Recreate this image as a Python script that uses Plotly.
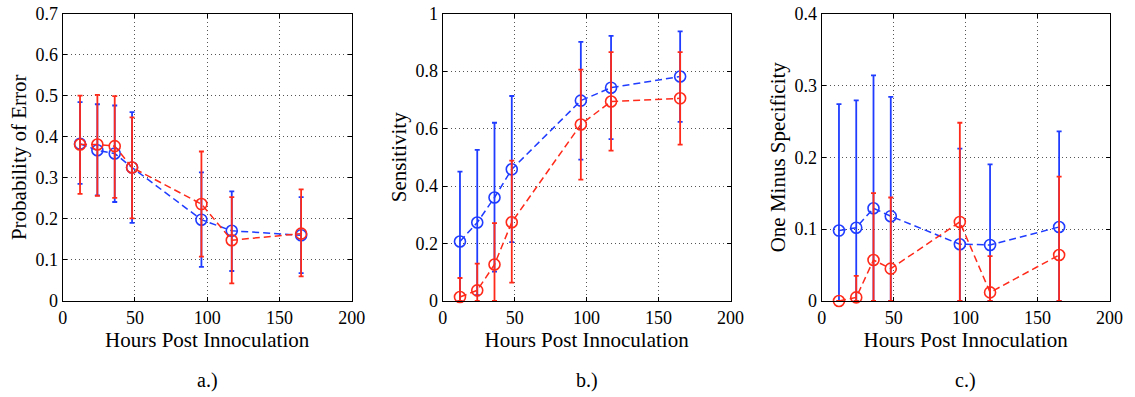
import plotly.graph_objects as go

hours = [12, 24, 36, 48, 96, 117, 165]

# Panel a: Probability of Error
err_blue = [0.383, 0.367, 0.359, 0.325, 0.198, 0.171, 0.160]
err_blue_hi = [0.484, 0.479, 0.476, 0.460, 0.313, 0.267, 0.253]
err_blue_lo = [0.285, 0.257, 0.241, 0.190, 0.083, 0.073, 0.068]
err_red = [0.381, 0.381, 0.377, 0.325, 0.236, 0.148, 0.164]
err_red_hi = [0.500, 0.502, 0.499, 0.447, 0.364, 0.253, 0.272]
err_red_lo = [0.261, 0.256, 0.251, 0.201, 0.108, 0.043, 0.060]

# Panel b: Sensitivity
sens_blue = [0.207, 0.273, 0.360, 0.458, 0.697, 0.742, 0.781]
sens_blue_hi = [0.450, 0.526, 0.620, 0.713, 0.901, 0.922, 0.938]
sens_blue_lo = [0.0, 0.02, 0.102, 0.205, 0.492, 0.563, 0.623]
sens_red = [0.014, 0.037, 0.127, 0.274, 0.614, 0.694, 0.705]
sens_red_hi = [0.080, 0.130, 0.271, 0.488, 0.805, 0.866, 0.866]
sens_red_lo = [0.0, 0.0, 0.0, 0.064, 0.422, 0.523, 0.544]

# Panel c: One Minus Specificity
fpr_blue = [0.098, 0.102, 0.129, 0.118, 0.079, 0.078, 0.103]
fpr_blue_hi = [0.274, 0.279, 0.314, 0.284, 0.212, 0.190, 0.236]
fpr_blue_lo = [0.0, 0.0, 0.0, 0.0, 0.0, 0.0, 0.0]
fpr_red = [0.0, 0.005, 0.057, 0.045, 0.110, 0.012, 0.064]
fpr_red_hi = [0.0, 0.035, 0.150, 0.144, 0.248, 0.0625, 0.173]
fpr_red_lo = [0.0, 0.0, 0.0, 0.0, 0.0, 0.0, 0.0]

y_titles = ["Probability of Error", "Sensitivity", "One Minus Specificity"]
captions = ["a.)", "b.)", "c.)"]
x_ticks = [0, 50, 100, 150, 200]
y_ticks_a = [0, 0.1, 0.2, 0.3, 0.4, 0.5, 0.6, 0.7]
y_ticks_b = [0, 0.2, 0.4, 0.6, 0.8, 1]
y_ticks_c = [0, 0.1, 0.2, 0.3, 0.4]

BLUE = "#1f3cff"
RED = "#ff2a1a"
FONT = "Liberation Serif"

W, H = 1135, 397
x_doms = [(62.7 / W, 351.7 / W), (442.7 / W, 730.5 / W), (821.7 / W, 1109.5 / W)]
y_dom = (1 - 301 / H, 1 - 13.5 / H)

fig = go.Figure()


def add_series(i, y, lo, hi, color):
    ax = "" if i == 0 else str(i + 1)
    fig.add_trace(go.Scatter(
        x=hours, y=y,
        xaxis="x" + ax, yaxis="y" + ax,
        mode="lines+markers",
        line=dict(color=color, width=1.5, dash="7px,4px"),
        marker=dict(symbol="circle-open", size=11, color=color,
                    line=dict(color=color, width=1.6)),
        error_y=dict(type="data", symmetric=False,
                     array=[h - v for h, v in zip(hi, y)],
                     arrayminus=[v - l for v, l in zip(y, lo)],
                     color=color, thickness=1.8, width=2.5),
        cliponaxis=False,
        showlegend=False,
        hoverinfo="x+y",
    ))


panels = [
    (err_blue, err_blue_lo, err_blue_hi, err_red, err_red_lo, err_red_hi),
    (sens_blue, sens_blue_lo, sens_blue_hi, sens_red, sens_red_lo, sens_red_hi),
    (fpr_blue, fpr_blue_lo, fpr_blue_hi, fpr_red, fpr_red_lo, fpr_red_hi),
]
for i, (b, blo, bhi, r, rlo, rhi) in enumerate(panels):
    add_series(i, b, blo, bhi, BLUE)
    add_series(i, r, rlo, rhi, RED)

y_ticks = [y_ticks_a, y_ticks_b, y_ticks_c]
layout = dict(
    width=W, height=H,
    margin=dict(l=0, r=0, t=0, b=0, pad=0, autoexpand=False),
    paper_bgcolor="white", plot_bgcolor="white",
    font=dict(family=FONT, size=18, color="black"),
    annotations=[],
)
common = dict(
    showline=True, linecolor="black", linewidth=1, mirror="ticks",
    ticks="inside", ticklen=4, tickcolor="black", tickwidth=1,
    showgrid=True, gridcolor="#555", gridwidth=1, griddash="1px,3px",
    zeroline=False, automargin=False,
    tickfont=dict(family=FONT, size=18, color="black"),
)
for i in range(3):
    ax = "" if i == 0 else str(i + 1)
    yt = y_ticks[i]
    layout["xaxis" + ax] = dict(
        common, domain=list(x_doms[i]), anchor="y" + ax,
        range=[0, 200], tickvals=x_ticks, ticktext=[str(v) for v in x_ticks],
        title=dict(text="Hours Post Innoculation", standoff=0,
                   font=dict(family=FONT, size=21, color="black")),
    )
    layout["yaxis" + ax] = dict(
        common, domain=list(y_dom), anchor="x" + ax,
        range=[yt[0], yt[-1]], tickvals=yt, ticktext=[f"{v:g}" for v in yt],
        title=dict(text=y_titles[i], standoff=3,
                   font=dict(family=FONT, size=21, color="black")),
    )
    layout["annotations"].append(dict(
        text=captions[i], xref="paper", yref="paper",
        x=(x_doms[i][0] + x_doms[i][1]) / 2, y=1 - 380 / H,
        xanchor="center", yanchor="middle", showarrow=False,
        font=dict(family=FONT, size=20, color="black"),
    ))

fig.update_layout(**layout)
fig.write_html("out.html")
